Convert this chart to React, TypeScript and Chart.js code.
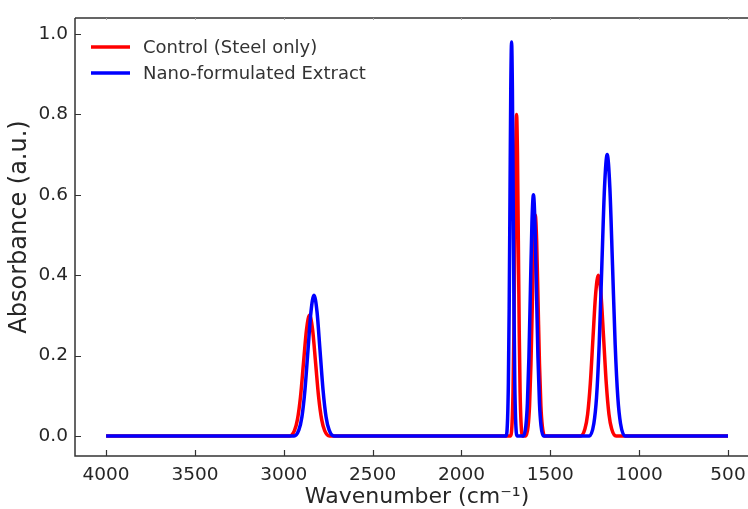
import React, { useEffect, useRef } from "react";
import { Chart, registerables } from "chart.js";

Chart.register(...registerables);

// Control (Steel only) spectrum
const wavenumberControl = [
  4000, 2967, 2940, 2923, 2906, 2889, 2872, 2855, 2838, 2821, 2804, 2787, 2770, 2743,
  1723, 1715, 1710, 1705, 1700, 1695, 1690, 1685, 1680, 1675, 1670, 1665, 1657,
  1638, 1625, 1617, 1609, 1601, 1593, 1585, 1577, 1569, 1561, 1553, 1545, 1532,
  1330, 1305, 1290, 1275, 1260, 1245, 1230, 1215, 1200, 1185, 1170, 1155, 1130,
  500,
];
const absorbanceControl = [
  0, 0, 0.013, 0.041, 0.097, 0.182, 0.265, 0.3, 0.265, 0.182, 0.097, 0.041, 0.013, 0,
  0, 0.035, 0.108, 0.26, 0.485, 0.706, 0.8, 0.706, 0.485, 0.26, 0.108, 0.035, 0,
  0, 0.024, 0.074, 0.179, 0.334, 0.485, 0.55, 0.485, 0.334, 0.179, 0.074, 0.024, 0,
  0, 0.018, 0.054, 0.13, 0.243, 0.353, 0.4, 0.353, 0.243, 0.13, 0.054, 0.018, 0,
  0,
];

// Nano-formulated Extract spectrum
const wavenumberNano = [
  4000, 2942, 2915, 2898, 2881, 2864, 2847, 2830, 2813, 2796, 2779, 2762, 2745, 2718,
  1748, 1740.5, 1736, 1731.5, 1727, 1722.5, 1718, 1713.5, 1709, 1704.5, 1700, 1695.5, 1688,
  1651, 1637.5, 1629, 1620.5, 1612, 1603.5, 1595, 1586.5, 1578, 1569.5, 1561, 1552.5, 1539,
  1280, 1255, 1240, 1225, 1210, 1195, 1180, 1165, 1150, 1135, 1120, 1105, 1080,
  500,
];
const absorbanceNano = [
  0, 0, 0.015, 0.047, 0.114, 0.212, 0.309, 0.35, 0.309, 0.212, 0.114, 0.047, 0.015, 0,
  0, 0.043, 0.133, 0.318, 0.594, 0.865, 0.98, 0.865, 0.594, 0.318, 0.133, 0.043, 0,
  0, 0.026, 0.081, 0.195, 0.364, 0.53, 0.6, 0.53, 0.364, 0.195, 0.081, 0.026, 0,
  0, 0.031, 0.095, 0.227, 0.425, 0.618, 0.7, 0.618, 0.425, 0.227, 0.095, 0.031, 0,
  0,
];

const seriesNames = ["Control (Steel only)", "Nano-formulated Extract"];
const seriesColors = ["#ff0000", "#0000ff"];
const xTicks = [4000, 3500, 3000, 2500, 2000, 1500, 1000, 500];
const yTicks = [0, 0.2, 0.4, 0.6, 0.8, 1.0];
const xTitle = "Wavenumber (cm\u207B\u00B9)";
const yTitle = "Absorbance (a.u.)";

const FONT = "'DejaVu Sans', sans-serif";
const TEXT = "#262626";

const framePlugin = {
  id: "frame",
  afterDraw(chart: any) {
    const { ctx, chartArea: a, scales } = chart;
    const x = scales.x;
    const y = scales.y;
    ctx.save();
    ctx.strokeStyle = "#333";
    ctx.lineWidth = 1.5;
    ctx.beginPath();
    ctx.moveTo(a.left, a.top);
    ctx.lineTo(a.right, a.top);
    ctx.moveTo(a.left, a.top);
    ctx.lineTo(a.left, a.bottom);
    ctx.lineTo(a.right, a.bottom);
    ctx.stroke();
    ctx.lineWidth = 1.2;
    ctx.beginPath();
    x.ticks.forEach((t: any) => {
      const px = Math.round(x.getPixelForValue(t.value)) + 0.5;
      ctx.moveTo(px, a.bottom);
      ctx.lineTo(px, a.bottom - 6);
    });
    y.ticks.forEach((t: any) => {
      const py = Math.round(y.getPixelForValue(t.value)) + 0.5;
      ctx.moveTo(a.left, py);
      ctx.lineTo(a.left + 6, py);
    });
    ctx.stroke();
    ctx.strokeStyle = "#aaa";
    ctx.lineWidth = 1;
    ctx.beginPath();
    x.ticks.forEach((t: any) => {
      const px = Math.round(x.getPixelForValue(t.value)) + 0.5;
      ctx.moveTo(px, a.top);
      ctx.lineTo(px, a.top + 2);
    });
    ctx.stroke();

    // axis titles
    ctx.fillStyle = TEXT;
    ctx.font = `22px ${FONT}`;
    ctx.textAlign = "center";
    ctx.textBaseline = "alphabetic";
    ctx.fillText(xTitle, x.getPixelForValue(2250), 503);
    ctx.save();
    ctx.font = `24px ${FONT}`;
    ctx.translate(26, 227);
    ctx.rotate(-Math.PI / 2);
    ctx.fillText(yTitle, 0, 0);
    ctx.restore();

    // legend
    ctx.font = `18px ${FONT}`;
    ctx.textAlign = "left";
    ctx.textBaseline = "middle";
    seriesNames.forEach((name, i) => {
      const ly = 47 + i * 26;
      ctx.strokeStyle = seriesColors[i];
      ctx.lineWidth = 3.5;
      ctx.beginPath();
      ctx.moveTo(91, ly);
      ctx.lineTo(130, ly);
      ctx.stroke();
      ctx.fillStyle = "#333";
      ctx.fillText(name, 143, ly + 1);
    });
    ctx.restore();
  },
};

export default function App() {
  const ref = useRef<HTMLCanvasElement>(null);
  useEffect(() => {
    if (!ref.current) return;
    const toPoints = (xs: number[], ys: number[]) => xs.map((v, i) => ({ x: v, y: ys[i] }));
    const chart = new Chart(ref.current, {
      type: "line",
      data: {
        datasets: [
          {
            label: seriesNames[0],
            data: toPoints(wavenumberControl, absorbanceControl),
            borderColor: seriesColors[0],
            backgroundColor: seriesColors[0],
            borderWidth: 3.5,
            pointRadius: 0,
            cubicInterpolationMode: "monotone",
            fill: false,
            order: 2,
          },
          {
            label: seriesNames[1],
            data: toPoints(wavenumberNano, absorbanceNano),
            borderColor: seriesColors[1],
            backgroundColor: seriesColors[1],
            borderWidth: 3.5,
            pointRadius: 0,
            cubicInterpolationMode: "monotone",
            fill: false,
            order: 1,
          },
        ],
      },
      options: {
        animation: false,
        responsive: false,
        layout: { autoPadding: false, padding: { top: 18, left: 0, right: 0, bottom: 0 } },
        plugins: { legend: { display: false }, tooltip: { enabled: false } },
        scales: {
          x: {
            type: "linear",
            reverse: true,
            min: 387.5,
            max: 4175,
            grid: { display: false, drawTicks: false },
            border: { display: false },
            afterBuildTicks: (s: any) => {
              s.ticks = xTicks.map((v) => ({ value: v }));
            },
            afterFit: (s: any) => {
              s.height = 53;
              s.paddingLeft = 0;
              s.paddingRight = 0;
            },
            ticks: {
              padding: 8,
              color: TEXT,
              font: { family: FONT, size: 18.5 },
              maxRotation: 0,
              autoSkip: false,
              callback: (v: any) => String(v),
            },
          },
          y: {
            type: "linear",
            min: -0.05,
            max: 1.04,
            grid: { display: false, drawTicks: false },
            border: { display: false },
            afterBuildTicks: (s: any) => {
              s.ticks = yTicks.map((v) => ({ value: v }));
            },
            afterFit: (s: any) => {
              s.width = 75;
              s.paddingTop = 0;
              s.paddingBottom = 0;
            },
            ticks: {
              padding: 7,
              color: TEXT,
              font: { family: FONT, size: 18.5 },
              autoSkip: false,
              callback: (v: any) => Number(v).toFixed(1),
            },
          },
        },
      },
      plugins: [framePlugin],
    });
    return () => chart.destroy();
  }, []);
  return (
    <div style={{ position: "fixed", left: 0, top: 0, width: 748, height: 509, background: "#fff" }}>
      <canvas ref={ref} width={748} height={509} style={{ display: "block" }} />
    </div>
  );
}
